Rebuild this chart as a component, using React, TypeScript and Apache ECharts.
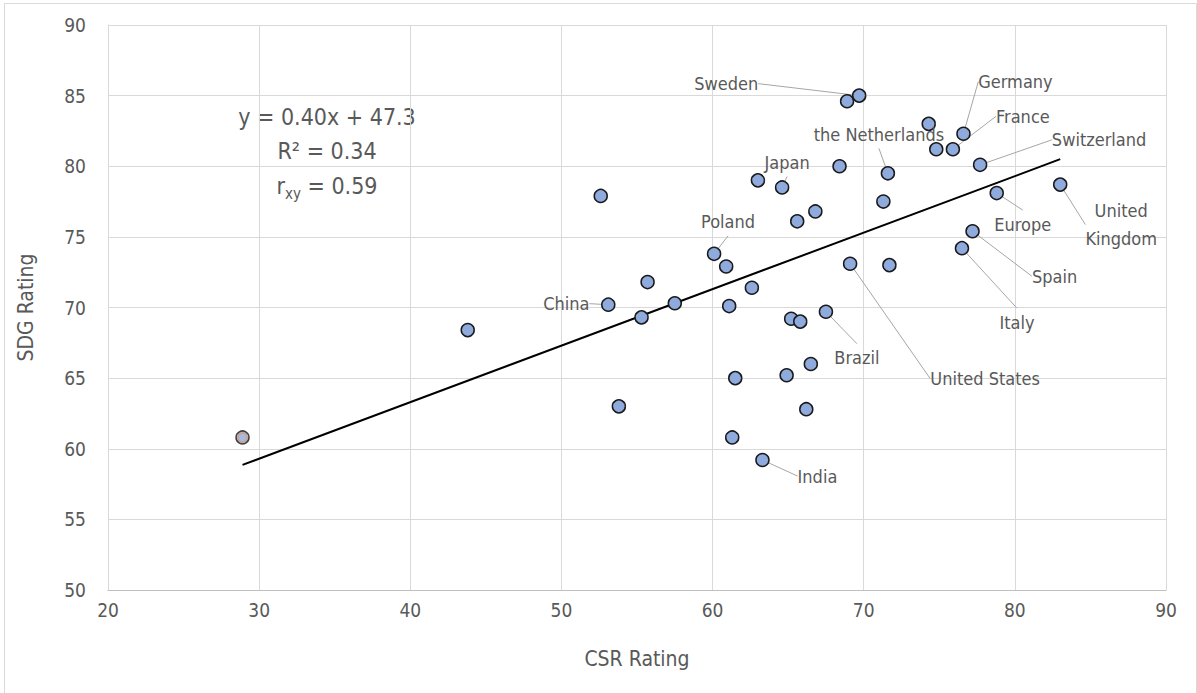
import React, { useEffect, useRef } from "react";
import * as echarts from "echarts";

// CSR rating (x) and SDG rating (y) for each country/region
const csr = [43.8, 52.6, 53.1, 53.8, 55.3, 55.7, 57.5, 60.1, 60.9, 61.1, 62.6, 63.0, 64.6, 65.6, 66.8, 68.4, 68.9, 69.7, 71.6, 71.3, 69.1, 71.7, 65.2, 65.8, 67.5, 66.5, 64.9, 61.5, 66.2, 61.3, 63.3, 74.3, 76.6, 74.8, 75.9, 77.7, 78.8, 83.0, 77.2, 76.5];
const sdg = [68.4, 77.9, 70.2, 63.0, 69.3, 71.8, 70.3, 73.8, 72.9, 70.1, 71.4, 79.0, 78.5, 76.1, 76.8, 80.0, 84.6, 85.0, 79.5, 77.5, 73.1, 73.0, 69.2, 69.0, 69.7, 66.0, 65.2, 65.0, 62.8, 60.8, 59.2, 83.0, 82.3, 81.2, 81.2, 80.1, 78.1, 78.7, 75.4, 74.2];
const names = ["", "", "China", "", "", "", "", "Poland", "", "", "", "", "Japan", "", "", "", "", "Sweden", "the Netherlands", "", "United States", "", "", "", "Brazil", "", "", "", "", "", "India", "", "Germany", "", "France", "Switzerland", "Europe", "United\nKingdom", "Spain", "Italy"];
// label offsets from the point (px)
const labelDx = [0, 0, -42, 0, 0, 0, 0, 14, 0, 0, 0, 0, 5, 0, 0, 0, 0, -133, -9, 0, 135, 0, 0, 0, 31, 0, 0, 0, 0, 0, 55, 0, 52, 0, 70, 119, 26, 61, 82, 55];
const labelDy = [0, 0, -1, 0, 0, 0, 0, -32, 0, 0, 0, 0, -25, 0, 0, 0, 0, -12, -39, 0, 115, 0, 0, 0, 46, 0, 0, 0, 0, 0, 16, 0, -52, 0, -33, -25, 31, 40, 45, 74];

// highlighted outlier point
const outlierCsr = [28.9];
const outlierSdg = [60.8];

// trend line
const slope = 0.40;
const intercept = 47.3;

const xTicks = { min: 20, max: 90, interval: 10 };
const yTicks = { min: 50, max: 90, interval: 5 };

const FONT = "Bahnschrift, 'Liberation Sans Narrow', 'DejaVu Sans Condensed', 'Roboto Condensed', Roboto, sans-serif";
const TEXT = "#595959";

export default function App() {
  const ref = useRef<HTMLDivElement>(null);
  useEffect(() => {
    if (!ref.current) return;
    const chart = echarts.init(ref.current, undefined, { renderer: "svg" });
    const allX = csr.concat(outlierCsr);
    const xMin = Math.min(...allX);
    const xMax = Math.max(...allX);
    const points = csr.map((x, i) => ({
      value: [x, sdg[i]],
      label: names[i]
        ? { show: true, formatter: names[i], position: "inside" }
        : { show: false },
      labelLine: { show: !!names[i] },
    }));
    chart.setOption({
      animation: false,
      textStyle: { fontFamily: FONT },
      grid: { left: 108, right: 31, top: 25, bottom: 103 },
      xAxis: {
        type: "value",
        min: xTicks.min,
        max: xTicks.max,
        interval: xTicks.interval,
        name: "CSR Rating",
        nameLocation: "middle",
        nameGap: 58,
        nameTextStyle: { color: TEXT, fontSize: 21, fontFamily: FONT },
        axisLine: { show: true, lineStyle: { color: "#bfbfbf" } },
        axisTick: { show: false },
        axisLabel: { color: TEXT, fontSize: 19, margin: 10, fontFamily: FONT },
        splitLine: { show: true, lineStyle: { color: "#d9d9d9" } },
      },
      yAxis: {
        type: "value",
        min: yTicks.min,
        max: yTicks.max,
        interval: yTicks.interval,
        name: "SDG Rating",
        nameLocation: "middle",
        nameGap: 72,
        nameTextStyle: { color: TEXT, fontSize: 21, fontFamily: FONT },
        axisLine: { show: true, lineStyle: { color: "#d9d9d9" } },
        axisTick: { show: false },
        axisLabel: { color: TEXT, fontSize: 19, margin: 22, fontFamily: FONT },
        splitLine: { show: true, lineStyle: { color: "#d9d9d9" } },
      },
      graphic: [
        {
          type: "rect",
          left: 2,
          top: 1,
          shape: { width: 1192, height: 690 },
          style: { fill: "none", stroke: "#d9d9d9", lineWidth: 1 },
          silent: true,
          z: -10,
        },
        {
          type: "text",
          x: 327,
          y: 117,
          style: { text: "y = 0.40x + 47.3", fill: TEXT, fontSize: 23, fontFamily: FONT, align: "center", verticalAlign: "middle" },
        },
        {
          type: "text",
          x: 327,
          y: 151,
          style: { text: "R² = 0.34", fill: TEXT, fontSize: 23, fontFamily: FONT, align: "center", verticalAlign: "middle" },
        },
        {
          type: "text",
          x: 327,
          y: 186,
          style: {
            text: "{a|r}{s|xy}{a| = 0.59}",
            fill: TEXT,
            align: "center",
            verticalAlign: "middle",
            rich: {
              a: { fontSize: 23, fontFamily: FONT, fill: TEXT, color: TEXT, verticalAlign: "bottom" },
              s: { fontSize: 15, fontFamily: FONT, fill: TEXT, color: TEXT, verticalAlign: "bottom", padding: [0, 0, -4, 0] },
            },
          },
        },
      ],
      series: [
        {
          type: "line",
          data: [
            [xMin, slope * xMin + intercept],
            [xMax, slope * xMax + intercept],
          ],
          showSymbol: false,
          symbol: "none",
          lineStyle: { color: "#000", width: 2 },
          silent: true,
          z: 1,
        },
        {
          type: "scatter",
          data: points,
          symbolSize: 13,
          itemStyle: { color: "#8faadc", borderColor: "#1a1a1a", borderWidth: 1.5, opacity: 1 },
          label: { color: TEXT, fontSize: 18, fontFamily: FONT, lineHeight: 28, align: "center" },
          labelLine: { lineStyle: { color: "#a6a6a6", width: 1 } },
          labelLayout: (p: any) => ({ dx: labelDx[p.dataIndex], dy: labelDy[p.dataIndex] }),
          z: 3,
        },
        {
          type: "scatter",
          data: outlierCsr.map((x, i) => [x, outlierSdg[i]]),
          symbolSize: 13,
          itemStyle: { color: "#8faadc", borderColor: "#1a1a1a", borderWidth: 1.5 },
          z: 3,
        },
        {
          type: "scatter",
          data: outlierCsr.map((x, i) => [x, outlierSdg[i]]),
          symbolSize: 9,
          itemStyle: { color: "none", borderColor: "#e0995e", borderWidth: 1.5 },
          z: 4,
          silent: true,
        },
      ],
    });
    return () => chart.dispose();
  }, []);
  return (
    <div
      ref={ref}
      style={{ position: "fixed", left: 0, top: 0, width: 1197, height: 693, background: "#fff" }}
    />
  );
}
